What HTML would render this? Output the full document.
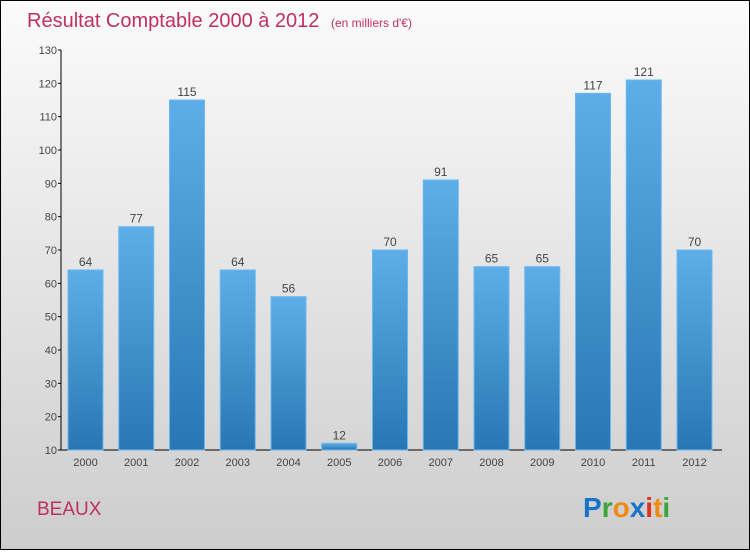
<!DOCTYPE html>
<html><head><meta charset="utf-8"><style>
html,body{margin:0;padding:0}
body{width:750px;height:550px;overflow:hidden;font-family:"Liberation Sans",sans-serif}
#wrap{position:absolute;left:0;top:0;width:748px;height:548px;border:1px solid #000;background:linear-gradient(#fbfbfb,#cdcdcd)}
</style></head><body>
<div id="wrap">
<svg width="748" height="548">
<defs><linearGradient id="bg" x1="0" y1="0" x2="0" y2="1"><stop offset="0" stop-color="#5daee8"/><stop offset="1" stop-color="#2877b4"/></linearGradient></defs>
<text x="26" y="26" font-size="20" fill="#c0305f">Résultat Comptable 2000 à 2012 <tspan font-size="12" dx="6">(en milliers d'€)</tspan></text>
<g id="axes"></g><g id="bars"></g>
<text x="36" y="514" font-size="19" fill="#c0305f">BEAUX</text>
<g font-size="28" font-weight="bold" font-family="Liberation Sans, sans-serif">
<text x="582" y="516"><tspan fill="#1a73c9">P</tspan><tspan fill="#3aa63a">r</tspan><tspan fill="#f08a10">o</tspan><tspan fill="#1a73c9">x</tspan><tspan fill="#e03020">i</tspan><tspan fill="#f08a10">t</tspan><tspan fill="#3aa63a">i</tspan></text></g>
</svg></div>
<script>
const years=["2000","2001","2002","2003","2004","2005","2006","2007","2008","2009","2010","2011","2012"];
const values=[64,77,115,64,56,12,70,91,65,65,117,121,70];
const ticks=[10,20,30,40,50,60,70,80,90,100,110,120,130];
const NS="http://www.w3.org/2000/svg";
function y(v){return 449-(v-10)*(400/120);}
function x(i){return 67+i*50.75;}
const ax=document.getElementById('axes'),bg=document.getElementById('bars');
function mk(t,a,p){const e=document.createElementNS(NS,t);for(const k in a)e.setAttribute(k,a[k]);p.appendChild(e);return e;}
let l=mk('line',{x1:60,y1:49,x2:60,y2:449,stroke:'#000'},ax);


l=mk('line',{x1:60,y1:449,x2:721,y2:449,stroke:'#000'},ax);


ticks.forEach(t=>{
 mk('line',{x1:57,x2:60,y1:y(t),y2:y(t),stroke:'#000'},ax);
 const tx=mk('text',{x:56,y:y(t)+4,'text-anchor':'end','font-size':11,fill:'#444'},ax);tx.textContent=t;
 
 
});
values.forEach((v,i)=>{
 const r=mk('rect',{x:x(i),y:y(v),width:35,height:449-y(v),fill:'url(#bg)',stroke:'#6bb8f0','stroke-width':1},bg);
 
 
 const t=mk('text',{x:x(i)+17.5,y:y(v)-4,'text-anchor':'middle','font-size':12,fill:'#444'},bg);t.textContent=v;
 
 
 const c=mk('text',{x:x(i)+17.5,y:465,'text-anchor':'middle','font-size':11,fill:'#444'},bg);c.textContent=years[i];
 
 
});
</script>
</body></html>
